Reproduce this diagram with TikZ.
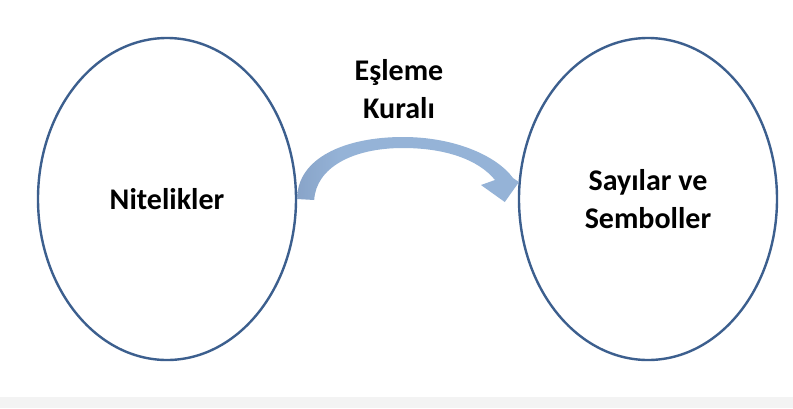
\documentclass[tikz,border=0pt]{standalone}
\usepackage{fontspec}
\setmainfont{Carlito}
\usetikzlibrary{shapes.geometric,calc}
\definecolor{ellline}{HTML}{3C5F8E}
\definecolor{arrdark}{HTML}{7890B5}
\definecolor{arrlight}{HTML}{95B3D7}
\definecolor{bandgray}{HTML}{F3F3F3}
\pgfdeclarehorizontalshading{arrowsh}{100bp}{color(0bp)=(arrdark); color(12bp)=(arrdark); color(35bp)=(arrlight); color(100bp)=(arrlight)}
\tikzset{
  setbox/.style={ellipse, draw=ellline, line width=2.4pt, minimum width=258pt,
    minimum height=322pt, inner sep=0pt, align=center,
    font=\bfseries\fontsize{30}{38}\selectfont},
  lbl/.style={align=center, inner sep=0pt, font=\bfseries\fontsize{30}{38}\selectfont},
}
\begin{document}
\begin{tikzpicture}[x=1pt,y=-1pt]
  \useasboundingbox (0,0) rectangle (793,408);
  \fill[white] (0,0) rectangle (793,408);
  \fill[bandgray] (0,397) rectangle (793,408);
  \node[setbox] (left) at (167,199) {Nitelikler};
  \node[setbox] (right) at (648,199) {Sayılar ve\\Semboller};
  \node[lbl] (rule) at (399,89) {Eşleme\\Kuralı};
  \shade[shading=arrowsh] (left.east)
    .. controls (297,158) and (345,137) .. (403,137)
    .. controls (455,137) and (497,156) .. (513,178)
    -- (519,182) -- ($(right.west)+(-13,3)$) -- (481,185) -- (495,180)
    .. controls (478,159) and (444,148) .. (403,148)
    .. controls (352,148) and (316,168) .. ($(left.east)+(17,1)$) -- cycle;
\end{tikzpicture}
\end{document}
